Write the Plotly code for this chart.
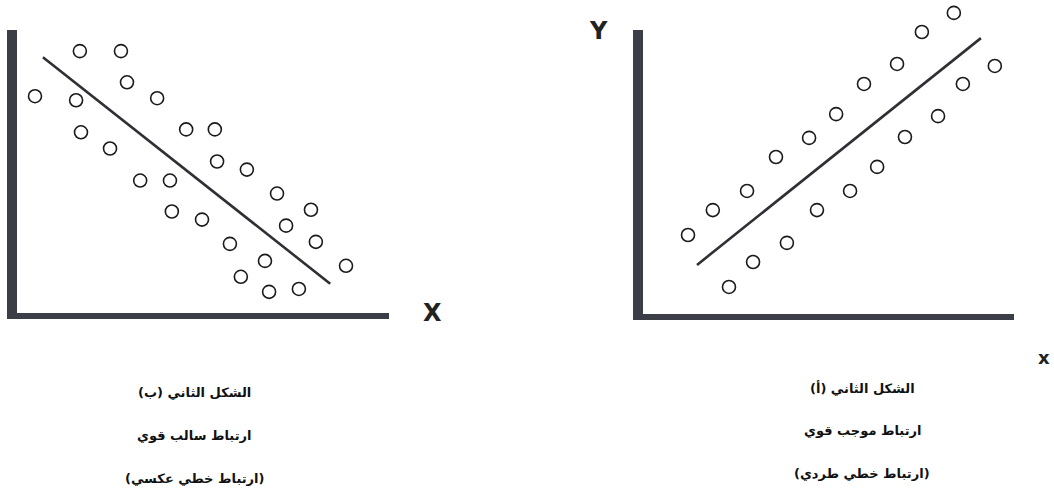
import plotly.graph_objects as go
from plotly.subplots import make_subplots

# left chart (b): strong negative correlation
neg_x = [1.80, 2.89, 0.61, 1.70, 3.05, 3.85, 1.83, 2.60, 4.62, 5.38, 5.44, 6.23, 3.40,
         4.19, 7.03, 7.93, 4.24, 5.04, 7.27, 8.06, 5.78, 6.71, 8.86, 6.07, 6.82, 7.61]
neg_y = [9.27, 9.27, 7.71, 7.57, 8.19, 7.64, 6.46, 5.90, 6.56, 6.56, 5.45, 5.17, 4.79,
         4.79, 4.34, 3.78, 3.72, 3.44, 3.23, 2.67, 2.60, 2.01, 1.84, 1.46, 0.94, 1.04]
neg_line_x = [0.82, 8.44]
neg_line_y = [9.06, 1.22]

# right chart (a): strong positive correlation
pos_x = [1.33, 1.99, 2.90, 3.67, 4.55, 5.27, 6.01, 6.89, 7.55, 8.40,
         9.49, 8.64, 7.98, 7.10, 6.36, 5.64, 4.76, 3.96, 3.06, 2.42]
pos_y = [2.93, 3.79, 4.45, 5.62, 6.28, 7.10, 8.14, 8.83, 9.93, 10.59,
         8.76, 8.14, 7.03, 6.31, 5.28, 4.45, 3.79, 2.66, 2.00, 1.14]
pos_line_x = [1.57, 9.12]
pos_line_y = [1.90, 9.72]

neg_caption = ["الشكل الثاني (ب)", "ارتباط سالب قوي", "(ارتباط خطي عكسي)"]
pos_caption = ["الشكل الثاني (أ)", "ارتباط موجب قوي", "(ارتباط خطي طردي)"]

W, H = 1054, 502
AXIS_COLOR = "#3b3e46"


def px_x(p):
    return p / W


def px_y(p):
    return 1 - p / H


def build_graph():
    fig = make_subplots(rows=1, cols=2)

    for col, xs, ys, lx, ly in [(1, neg_x, neg_y, neg_line_x, neg_line_y),
                                (2, pos_x, pos_y, pos_line_x, pos_line_y)]:
        fig.add_trace(
            go.Scatter(x=lx, y=ly, mode="lines",
                       line=dict(color="#2f3035", width=2.6),
                       hoverinfo="skip", cliponaxis=False),
            row=1, col=col,
        )
        fig.add_trace(
            go.Scatter(x=xs, y=ys, mode="markers",
                       marker=dict(symbol="circle", size=13, color="white",
                                   line=dict(color="#1a1a1a", width=1.6)),
                       cliponaxis=False),
            row=1, col=col,
        )

    # right panel: 29 px per unit, axis top at 10 units; let the range run higher
    right_top = 320 / 29.0
    fig.update_layout(
        width=W, height=H,
        margin=dict(l=0, r=0, t=0, b=0),
        showlegend=False,
        paper_bgcolor="white",
        plot_bgcolor="white",
        xaxis=dict(domain=[px_x(12), px_x(389)], range=[0, 10]),
        yaxis=dict(domain=[px_y(319), px_y(30)], range=[0, 10]),
        xaxis2=dict(domain=[px_x(638), px_x(1014)], range=[0, 10]),
        yaxis2=dict(domain=[px_y(320), px_y(0)], range=[0, right_top]),
    )
    fig.update_xaxes(visible=False, fixedrange=True)
    fig.update_yaxes(visible=False, fixedrange=True)

    # thick L-shaped axes
    for xr, yr in [("x", "y"), ("x2", "y2")]:
        fig.add_shape(type="rect", xref=xr + " domain", yref=yr,
                      xsizemode="pixel", xanchor=0, x0=-5, x1=5,
                      y0=-0.2, y1=10, fillcolor=AXIS_COLOR, line_width=0,
                      layer="below")
        fig.add_shape(type="rect", xref=xr + " domain", yref=yr,
                      ysizemode="pixel", yanchor=0, y0=-6, y1=6,
                      x0=-0.013, x1=1, fillcolor=AXIS_COLOR, line_width=0,
                      layer="below")

    font = dict(family="DejaVu Sans", size=13, color="#111111")
    for lines, cx, ys in [(neg_caption, 194, [392, 435, 478]),
                          (pos_caption, 862, [388, 430, 473])]:
        for txt, yy in zip(lines, ys):
            fig.add_annotation(text="<b>" + txt + "</b>", x=px_x(cx), y=px_y(yy),
                               xref="paper", yref="paper", showarrow=False,
                               xanchor="center", yanchor="middle", font=font)

    # axis letters
    for txt, xx, yy, size in [("X", 432, 313, 24), ("Y", 598, 31, 24), ("x", 1044, 357, 18)]:
        fig.add_annotation(text="<b>" + txt + "</b>", x=px_x(xx), y=px_y(yy),
                           xref="paper", yref="paper", showarrow=False,
                           xanchor="center", yanchor="middle",
                           font=dict(family="DejaVu Sans", size=size, color="#222222"))

    return fig


fig = build_graph()
# drop the default body margin so the figure fills the window exactly
fig.write_html("out.html", config={"displayModeBar": False},
               post_script="document.body.style.margin = '0';")
